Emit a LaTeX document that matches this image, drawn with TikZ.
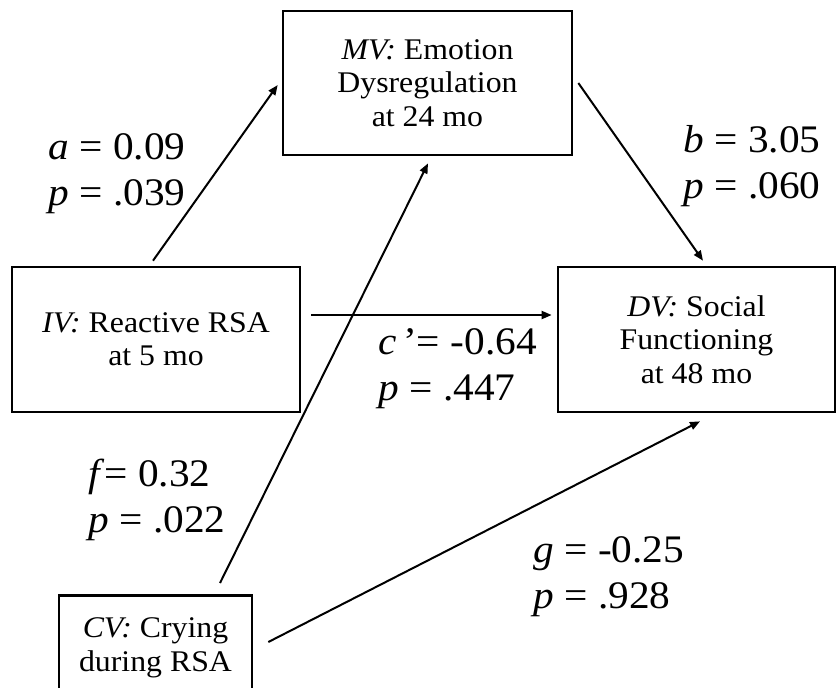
\documentclass[tikz,border=0pt]{standalone}
\usepackage{fontspec}
\setmainfont{Liberation Serif}[FakeStretch=1.06]
\definecolor{medInk}{HTML}{000000}
\usetikzlibrary{arrows.meta, calc}

\begin{document}
\begin{tikzpicture}[
  x=0.75pt, y=-0.75pt,
  varbox/.style={draw=medInk, line width=2pt, inner sep=0pt, align=center,
    font=\fontsize{22.5}{25}\selectfont},
  coef/.style={anchor=base west, align=left, inner sep=0pt, scale=1.3,
    transform shape, font=\fontsize{22.5}{26.2}\selectfont},
  effect/.style={draw=medInk, line width=1.5pt,
    -{Triangle[length=7.5pt,width=6pt]}}]
  \useasboundingbox (0,0) rectangle (837,687);
  \clip (0,0) rectangle (837,687);
  % Variables
  \node[varbox, minimum width=216.75pt, minimum height=108pt] (MV) at (427.5,83)
    {\textit{MV:} Emotion\\Dysregulation\\at 24 mo};
  \node[varbox, minimum width=216pt, minimum height=108.75pt] (IV) at (156,339.5)
    {\textit{IV:} Reactive RSA\\at 5 mo};
  \node[varbox, minimum width=207.75pt, minimum height=108.75pt] (DV) at (696.5,339.5)
    {\textit{DV:} Social\\Functioning\\at 48 mo};
  \node[varbox, anchor=north, minimum width=144.75pt, inner ysep=17pt,
    text depth=50pt] (CV) at (155.5,594) {\textit{CV:} Crying\\during RSA};
  % Paths
  \draw[effect] ($(IV.north)+(-3,-5)$) -- ($(MV.west)+(-4,2)$);
  \draw[effect] ($(MV.east)+(5,0)$) -- ($(DV.north)+(6.5,-5)$);
  \draw[effect] ($(IV.east)+(10,-24.5)$) -- ($(DV.west)+(-5,-24.5)$);
  \draw[effect] ($(CV.north)+(64.5,-11)$) -- ($(MV.south)+(0.5,7)$);
  \draw[effect] ($(CV.north east)+(15,48)$) -- ($(DV.south)+(3.5,8)$);
  % Coefficients (base = last line)
  \node[coef] (coefA) at (48,205) {\textit{a} = 0.09\\\textit{p} = .039};
  \node[coef] (coefB) at (683,198) {\textit{b} = 3.05\\\textit{p} = .060};
  \node[coef] (coefC) at (378,400) {\textit{c}\,’= -0.64\\\textit{p} = .447};
  \node[coef] (coefF) at (88,532) {\textit{f}= 0.32\\\textit{p} = .022};
  \node[coef] (coefG) at (533,608) {\textit{g} = -0.25\\\textit{p} = .928};
\end{tikzpicture}
\end{document}
